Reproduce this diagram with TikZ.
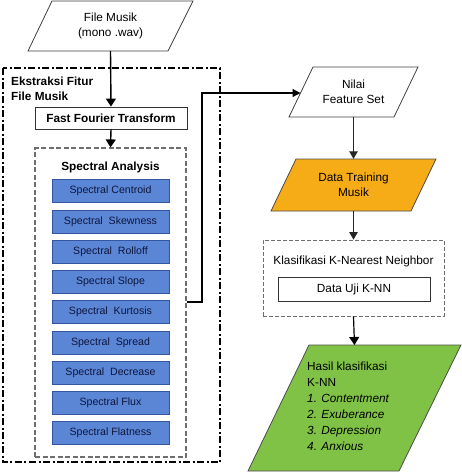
\documentclass[tikz,border=0pt]{standalone}
\usepackage{fontspec}
\setmainfont{Liberation Sans}
\usetikzlibrary{arrows.meta}
\definecolor{bluefill}{RGB}{91,134,214}
\definecolor{blueline}{RGB}{52,86,160}
\definecolor{bluetext}{RGB}{14,22,60}
\definecolor{orangefill}{RGB}{246,172,22}
\definecolor{greenfill}{RGB}{128,194,70}
\definecolor{dashgray}{RGB}{110,110,110}
\tikzset{
  txt/.style={font=\fontsize{11.8}{15}\selectfont, align=center, inner sep=0pt},
  btxt/.style={font=\fontsize{11.8}{15}\selectfont\bfseries, align=left, inner sep=0pt},
  plainbox/.style={draw=black!80, line width=0.9pt, fill=white, txt},
  specbox/.style={draw=blueline, line width=1pt, fill=bluefill, text=bluetext,
     font=\fontsize{10.6}{13}\selectfont, minimum width=117pt, minimum height=23pt, inner sep=0pt},
  bigarrow/.style={draw=black, line width=1.4pt, -{Triangle[length=8pt,width=10pt]}},
  arrowthin/.style={draw=black!85, line width=0.9pt, -{Triangle[length=7.5pt,width=8.5pt]}},
  arrowmid/.style={draw=black, line width=1.2pt, -{Triangle[length=8pt,width=10pt]}},
  paraline/.style={draw=black!75, line width=0.8pt},
}
\begin{document}
\begin{tikzpicture}[x=1pt,y=-1pt]
\useasboundingbox (0,0) rectangle (462,472);
% File Musik parallelogram
\draw[paraline, fill=white] (28,51) -- (168,51) -- (193,1) -- (52,1) -- cycle;
\node[txt, minimum height=50pt, minimum width=140pt] (fm) at (110.5,26) {File Musik\\(mono .wav)};
% Outer dash-dot box
\draw[line width=1.8pt, dash pattern=on 7pt off 2.5pt on 2pt off 2.5pt] (3,68) rectangle (220,462);
\node[btxt, anchor=west] (ekst) at (11,88.5) {Ekstraksi Fitur\\File Musik};
% FFT
\node[plainbox, font=\fontsize{11.8}{15}\selectfont\bfseries, minimum width=152pt, minimum height=22pt] (fft) at (111,118) {Fast Fourier Transform};
% Spectral analysis box
\node[draw=dashgray, line width=1.2pt, dash pattern=on 5pt off 2.5pt, minimum width=151pt, minimum height=309pt, inner sep=0pt] (sa) at (110.5,302.5) {};
\node[btxt] (satitle) at (110.5,167) {Spectral Analysis};
\node[specbox] (s1) at (110.5,191) {Spectral Centroid};
\node[specbox] (s2) at (110.5,222) {Spectral\ \ Skewness};
\node[specbox] (s3) at (110.5,251.5) {Spectral\ \ Rolloff};
\node[specbox] (s4) at (110.5,282) {Spectral Slope};
\node[specbox] (s5) at (110.5,312) {Spectral\ \ Kurtosis};
\node[specbox] (s6) at (110.5,343) {Spectral\ \ Spread};
\node[specbox] (s7) at (110.5,372.5) {Spectral\ \ Decrease};
\node[specbox] (s8) at (110.5,402.5) {Spectral Flux};
\node[specbox] (s9) at (110.5,432.5) {Spectral Flatness};
% arrows left
\draw[bigarrow] (fm.south) -- (fft.north);
\draw[bigarrow] (fft.south) -- (sa.north);
% Nilai Feature Set
\draw[paraline, fill=white] (289,117) -- (394,117) -- (418,67) -- (313,67) -- cycle;
\node[txt, minimum height=50pt, minimum width=100pt] (nfs) at (353.5,92) {Nilai\\Feature Set};
\coordinate (nfsin) at (300.5,93);
\draw[line width=1.2pt, -{Triangle[length=8pt,width=8pt]}] (sa.east |- 0,302) -- (202,302) -- (202,93) -- (nfsin);
% Data Training
\draw[draw=black!70, line width=0.8pt, fill=orangefill] (271,211) -- (411,211) -- (436,159) -- (296,159) -- cycle;
\node[txt, minimum height=52pt, minimum width=110pt] (dt) at (353.5,185) {Data Training\\Musik};
\draw[arrowthin] (nfs.south) -- (dt.north);
% KNN box
\node[draw=dashgray, line width=0.8pt, dash pattern=on 4pt off 2pt, minimum width=181pt, minimum height=76pt, inner sep=0pt] (knn) at (353.5,278) {};
\node[txt] (knnt) at (353.5,261) {Klasifikasi K-Nearest Neighbor};
\node[plainbox, minimum width=152pt, minimum height=24pt] (uji) at (354,289) {Data Uji K-NN};
\draw[arrowthin] (dt.south) -- (knn.north);
% Result
\draw[draw=black!70, line width=0.8pt, fill=greenfill] (248,471) -- (399,471) -- (461,345) -- (309,345) -- cycle;
\node[font=\fontsize{11.8}{16}\selectfont, align=left, inner sep=0pt, anchor=north west] (res) at (307,362) {Hasil klasifikasi\\K-NN\\\textit{1. Contentment}\\\textit{2. Exuberance}\\\textit{3. Depression}\\\textit{4. Anxious}};
\coordinate (restop) at (354.5,345);
\draw[arrowmid] (knn.south) -- (restop);
\end{tikzpicture}
\end{document}
